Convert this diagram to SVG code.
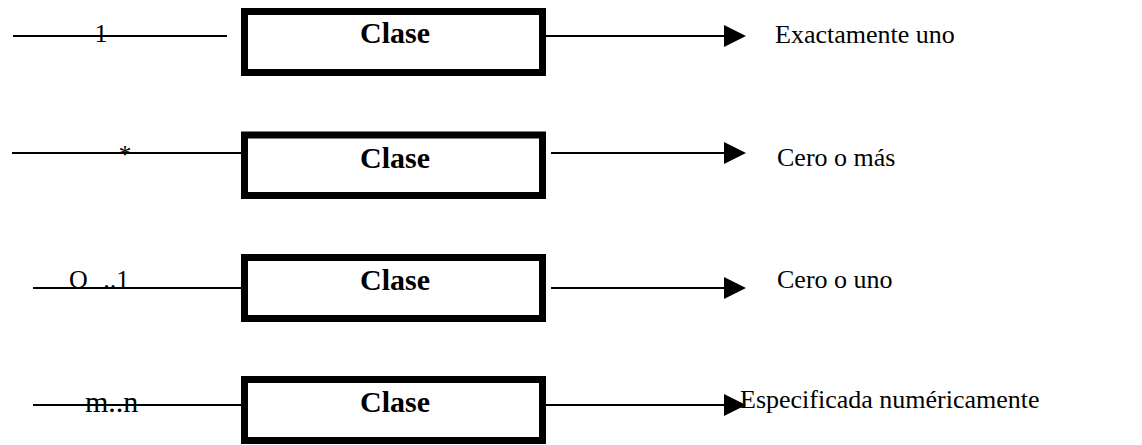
<svg xmlns="http://www.w3.org/2000/svg" width="1142" height="445" viewBox="0 0 1142 445">
<style>
.box{fill:#fff;stroke:#000;stroke-width:7}
.cls{font-family:'Liberation Serif','DejaVu Serif',serif;font-weight:bold;font-size:30px;text-anchor:middle;fill:#000}
.lbl{font-family:'Liberation Serif','DejaVu Serif',serif;font-size:26px;fill:#000}
.ln{stroke:#000;stroke-width:2;fill:none}
</style>
<defs>
<marker id="arr" markerUnits="userSpaceOnUse" markerWidth="24" markerHeight="24" refX="0" refY="11" orient="auto" viewBox="0 0 24 24">
<path d="M0,0 L22,11 L0,22 Z" fill="#000"/>
</marker>
</defs>
<g id="connectors">
<line class="ln" x1="13" y1="36" x2="227" y2="36"/>
<line class="ln" x1="535" y1="36" x2="724" y2="36" marker-end="url(#arr)"/>
<line class="ln" x1="12" y1="153" x2="242" y2="153"/>
<line class="ln" x1="551" y1="153" x2="724" y2="153" marker-end="url(#arr)"/>
<line class="ln" x1="33" y1="288" x2="242" y2="288"/>
<line class="ln" x1="551" y1="288" x2="724" y2="288" marker-end="url(#arr)"/>
<line class="ln" x1="33" y1="405" x2="242" y2="405"/>
<line class="ln" x1="533" y1="405" x2="724" y2="405" marker-end="url(#arr)"/>
</g>
<g id="node1">
<rect class="box" x="244.5" y="11.5" width="298" height="61"/>
<text class="cls" x="395" y="43" font-family="Liberation Serif">Clase</text>
</g>
<g id="node2">
<rect class="box" x="244.5" y="135" width="298" height="60.5"/>
<text class="cls" x="395" y="168">Clase</text>
</g>
<g id="node3">
<rect class="box" x="244.5" y="257.5" width="298" height="61"/>
<text class="cls" x="395" y="290">Clase</text>
</g>
<g id="node4">
<rect class="box" x="244.5" y="379.5" width="298" height="61"/>
<text class="cls" x="395" y="412">Clase</text>
</g>
<g id="labels">
<text class="lbl" x="101" y="42" text-anchor="middle">1</text>
<text class="lbl" x="125" y="163" text-anchor="middle">*</text>
<text class="lbl" x="69" y="288">O<tspan dx="9"> ..1</tspan></text>
<text class="lbl" x="85" y="412" style="font-size:30px">m..n</text>
<text class="lbl" x="775" y="43">Exactamente uno</text>
<text class="lbl" x="777" y="166">Cero o más</text>
<text class="lbl" x="777" y="288">Cero o uno</text>
<text class="lbl" x="740" y="408">Especificada numéricamente</text>
</g>
</svg>
